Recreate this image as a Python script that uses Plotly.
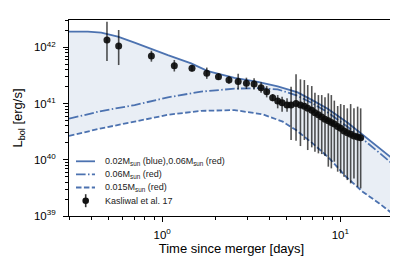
import numpy as np
import plotly.graph_objects as go

# ---------------- data ----------------
# model light curves: time [days], log10 L_bol [erg/s]
t_solid = [0.30, 0.383, 0.455, 0.564, 0.70, 0.868, 1.076, 1.454, 1.804, 2.546,
           3.44, 4.45, 5.76, 6.99, 8.49, 10.99, 13.86, 16.6, 20.0]
logL_solid = [42.279, 42.28, 42.262, 42.19, 42.084, 41.97, 41.86, 41.715, 41.578, 41.457,
              41.386, 41.306, 41.199, 41.057, 40.906, 40.657, 40.399, 40.203, 40.0]

t_dashdot = [0.30, 0.455, 0.70, 1.076, 1.654, 2.546, 3.44, 4.45, 5.76, 6.99,
             8.49, 10.99, 13.86, 16.6, 20.0]
logL_dashdot = [40.731, 40.867, 40.973, 41.11, 41.212, 41.265, 41.274, 41.253, 41.137, 41.004,
                40.843, 40.585, 40.327, 40.114, 39.905]

t_dashed = [0.30, 0.455, 0.70, 1.076, 1.654, 2.546, 3.67, 4.75, 5.64, 6.99,
            8.68, 10.75, 13.34, 16.54, 20.0]
logL_dashed = [40.425, 40.559, 40.678, 40.80, 40.87, 40.884, 40.808, 40.678, 40.528, 40.292,
               40.025, 39.699, 39.432, 39.224, 39.02]

# Kasliwal et al. 17 bolometric light curve: time, log10 L, upper and lower error ends
t_obs = [0.49, 0.57, 0.87, 1.17, 1.47, 1.78, 2.07, 2.37, 2.67, 2.97, 3.28, 3.59, 3.86, 4.17,
         4.45, 4.71, 5.02, 5.29, 5.64, 5.97, 6.28, 6.56, 6.91, 7.20, 7.53, 7.86, 8.20, 8.56,
         8.90, 9.25, 9.66, 10.04, 10.48, 10.94, 11.42, 11.92, 12.50, 13.0]
logL_obs = [42.13, 42.023, 41.845, 41.674, 41.626, 41.537, 41.478, 41.418, 41.39, 41.36, 41.347,
            41.283, 41.212, 41.105, 41.044, 41.016, 40.973, 40.973, 41.0, 40.973, 40.950, 40.915,
            40.879, 40.835, 40.799, 40.763, 40.719, 40.692, 40.665, 40.635, 40.594, 40.559,
            40.514, 40.479, 40.452, 40.425, 40.404, 40.39]
logL_hi = [42.457, 42.308, 41.94, 41.774, 41.68, 41.64, 41.54, 41.49, 41.53, 41.46, 41.45,
           41.38, 41.31, 41.17, 41.151, 41.123, 41.093, 41.301, 41.520, 41.431, 41.418, 41.329,
           41.311, 41.194, 41.151, 41.151, 41.110, 41.181, 41.151, 41.052, 40.956, 40.991,
           40.973, 40.915, 40.991, 40.915, 40.945, 40.915]
logL_lo = [41.756, 41.685, 41.745, 41.57, 41.57, 41.44, 41.42, 41.35, 41.25, 41.26, 41.25,
           41.19, 41.11, 41.04, 40.915, 40.856, 40.856, 40.351, 40.340, 40.244, 40.351, 40.173,
           40.221, 40.144, 40.114, 40.101, 40.066, 39.877, 39.847, 39.966, 39.788, 39.758,
           39.699, 39.639, 39.58, 39.669, 39.521, 39.491]

legend_labels = ["0.02M<sub>sun</sub> (blue),0.06M<sub>sun</sub> (red)",
                 "0.06M<sub>sun</sub> (red)",
                 "0.015M<sub>sun</sub> (red)",
                 "Kasliwal et al. 17"]

x_tickvals = [1, 10]
x_ticktext = ["10<sup>0</sup>", "10<sup>1</sup>"]
y_tickvals = [1e39, 1e40, 1e41, 1e42]
y_ticktext = ["10<sup>39</sup>", "10<sup>40</sup>", "10<sup>41</sup>", "10<sup>42</sup>"]

# ---------------- styling ----------------
BLUE = "#4C72B0"
FILL = "rgba(76,114,176,0.12)"
FONT = "Liberation Sans, Arial, sans-serif"
W, H = 398, 259
ML, MR, MT, MB = 61, 12, 12, 51
PW, PH = W - ML - MR, H - MT - MB

L_solid = np.power(10.0, logL_solid)
L_dashdot = np.power(10.0, logL_dashdot)
L_dashed = np.power(10.0, logL_dashed)
L_obs = np.power(10.0, logL_obs)
err_up = np.power(10.0, logL_hi) - L_obs
err_dn = L_obs - np.power(10.0, logL_lo)

DASH = "5.5px,2.4px"
DASHDOT = "9.6px,2.4px,1.5px,2.4px"

fig = go.Figure()

# shaded band between the upper (solid) and lower (dashed) models
fig.add_trace(go.Scatter(
    x=list(t_solid) + list(t_dashed)[::-1],
    y=list(L_solid) + list(L_dashed)[::-1],
    fill="toself", fillcolor=FILL, line=dict(width=0),
    mode="lines", hoverinfo="skip", showlegend=False))

fig.add_trace(go.Scatter(x=t_solid, y=L_solid, mode="lines",
                         line=dict(color=BLUE, width=1.8), showlegend=False))
fig.add_trace(go.Scatter(x=t_dashdot, y=L_dashdot, mode="lines",
                         line=dict(color=BLUE, width=1.8, dash=DASHDOT), showlegend=False))
fig.add_trace(go.Scatter(x=t_dashed, y=L_dashed, mode="lines",
                         line=dict(color=BLUE, width=1.8, dash=DASH), showlegend=False))

fig.add_trace(go.Scatter(
    x=t_obs, y=L_obs, mode="markers",
    marker=dict(color="rgba(10,10,10,0.9)", size=7, line=dict(width=0)),
    error_y=dict(type="data", symmetric=False, array=err_up, arrayminus=err_dn,
                 color="rgba(0,0,0,0.68)", thickness=1.6, width=0),
    showlegend=False))

# ---------------- hand-placed legend (matplotlib style) ----------------
def pp(px, py):
    return (px - ML) / PW, (MT + PH - py) / PH

rows_py = [153.3, 166.3, 179.5, 192.7]
shapes = []
annotations = []
for i, (py, dash) in enumerate(zip(rows_py[:3], [None, DASHDOT, DASH])):
    x0, y0 = pp(68, py)
    x1, _ = pp(87, py)
    ln = dict(color=BLUE, width=1.8)
    if dash:
        ln["dash"] = dash
    shapes.append(dict(type="line", xref="paper", yref="paper",
                       x0=x0, x1=x1, y0=y0, y1=y0, line=ln))
# marker + error bar for observation entry
cx, cy = pp(77.7, rows_py[3])
_, ey0 = pp(77.7, rows_py[3] - 6.5)
_, ey1 = pp(77.7, rows_py[3] + 6.5)
shapes.append(dict(type="line", xref="paper", yref="paper", x0=cx, x1=cx, y0=ey0, y1=ey1,
                   line=dict(color="rgba(0,0,0,0.8)", width=1.6)))
rx, ry = 3.3 / PW, 3.3 / PH
shapes.append(dict(type="circle", xref="paper", yref="paper", x0=cx - rx, x1=cx + rx,
                   y0=cy - ry, y1=cy + ry, fillcolor="#111111", line=dict(width=0)))

for py, lab in zip(rows_py, legend_labels):
    x, y = pp(95, py)
    annotations.append(dict(xref="paper", yref="paper", x=x, y=y, text=lab,
                            showarrow=False, xanchor="left", yanchor="middle",
                            font=dict(size=9, color="#222222", family=FONT)))

axis_common = dict(type="log", showgrid=False, zeroline=False, showline=True,
                   linecolor="black", linewidth=1, mirror=True, ticks="outside",
                   ticklen=5, tickwidth=1, tickcolor="black", automargin=False,
                   tickfont=dict(size=11.5, color="black", family=FONT))

fig.update_layout(
    width=W, height=H,
    margin=dict(l=ML, r=MR, t=MT, b=MB),
    paper_bgcolor="white", plot_bgcolor="white",
    font=dict(family=FONT, color="black"),
    shapes=shapes, annotations=annotations,
    xaxis=dict(**axis_common, range=[np.log10(0.3), np.log10(20)],
               tickvals=x_tickvals, ticktext=x_ticktext, ticklabelstandoff=3,
               minor=dict(ticks="outside", ticklen=3, tickcolor="black", showgrid=False,
                          tickvals=[0.3, 0.4, 0.5, 0.6, 0.7, 0.8, 0.9,
                                    2, 3, 4, 5, 6, 7, 8, 9, 20]),
               title=dict(text="Time since merger [days]", font=dict(size=13), standoff=3)),
    yaxis=dict(**axis_common, range=[39, 42.486],
               tickvals=y_tickvals, ticktext=y_ticktext, ticklabelstandoff=5,
               minor=dict(ticks="outside", ticklen=3, tickcolor="black", showgrid=False,
                          tickvals=[k * 10.0 ** e for e in (39, 40, 41) for k in range(2, 10)]
                          + [2e42, 3e42]),
               title=dict(text="L<sub>bol</sub> [erg/s]", font=dict(size=13), standoff=8)),
)

fig.write_html("out.html")
